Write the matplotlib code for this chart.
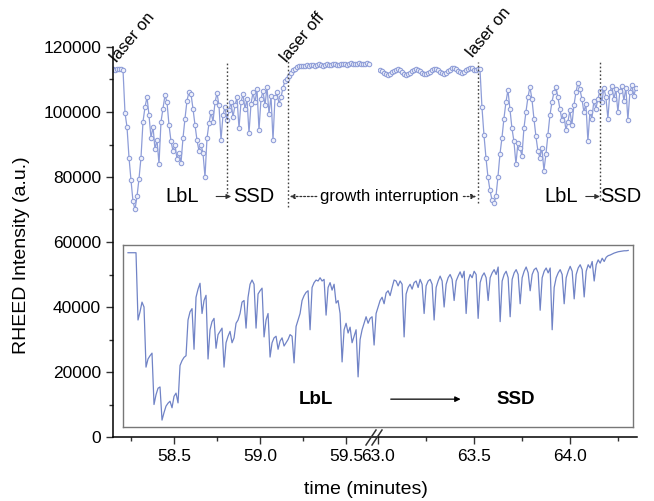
import numpy as np
import matplotlib
matplotlib.use("Agg")
import matplotlib.pyplot as plt
from matplotlib.ticker import MultipleLocator, FormatStrFormatter
from matplotlib.lines import Line2D

plt.rcParams['font.family'] = ['Liberation Sans', 'DejaVu Sans']

# ---- RHEED intensity, first growth run + interruption (minutes, a.u. x1000)
t0_run1 = 58.145
dt_run1 = 0.01163
run1_k = [
    113.2, 113.0, 113.3, 113.1, 113.2, 113.0, 99.7, 95.4, 86.0, 79.0,
    72.5, 70.0, 74.0, 79.5, 86.0, 97.0, 101.5, 104.6, 99.0, 92.0,
    95.5, 88.5, 91.5, 84.0, 97.0, 101.0, 105.2, 103.0, 96.0, 91.0,
    88.0, 90.0, 85.5, 87.5, 84.3, 92.0, 98.0, 103.5, 106.2, 105.5,
    101.0, 96.0, 91.3, 88.0, 90.0, 87.3, 80.0, 92.0, 96.5, 100.0,
    97.0, 103.0, 105.8, 102.0, 91.4, 99.0, 101.5, 97.5, 100.5, 103.0,
    98.5, 102.0, 104.5, 95.0, 103.0, 105.5, 101.0, 104.0, 93.5, 102.5,
    106.0, 103.0, 107.0, 94.5, 104.0, 106.5, 102.0, 107.7, 99.5, 105.0,
    91.4, 104.5, 106.0, 102.5, 104.5, 107.5, 109.5, 110.0, 111.0, 112.0,
    112.8, 113.3, 113.8, 114.0, 114.2, 114.0, 114.3, 114.5, 114.3, 114.6,
    114.4, 114.2, 114.5, 114.7, 114.4, 114.3, 114.6, 114.8, 114.5, 114.4,
    114.7, 114.9, 114.6, 114.5, 114.8, 114.9, 114.7, 114.6, 114.9, 115.0,
    114.8, 114.7, 114.9, 115.0, 114.8, 114.7, 114.9, 115.0, 114.8,
]

# ---- interruption (continued) + second growth run
t0_run2 = 63.0104
dt_run2 = 0.01042
run2_k = [
    113.0, 112.6, 112.0, 111.6, 111.5, 111.7, 112.2, 112.7, 113.0, 113.1,
    112.8, 112.3, 111.8, 111.5, 111.6, 112.0, 112.5, 113.0, 113.2, 113.0,
    112.6, 112.0, 111.7, 111.6, 111.9, 112.4, 112.9, 113.3, 113.2, 112.8,
    112.3, 111.9, 111.8, 112.0, 112.5, 113.0, 113.4, 113.5, 113.1, 112.6,
    112.2, 112.1, 112.4, 112.9, 113.3, 113.6, 113.4, 113.0, 112.8, 113.2,
    113.3, 101.5, 93.0, 86.0, 80.0, 76.0, 73.0, 72.0, 74.0, 80.0,
    87.0, 92.0, 98.0, 103.0, 106.8, 101.0, 95.0, 91.0, 84.0, 90.5,
    89.0, 86.5, 95.0, 100.0, 104.5, 107.7, 104.0, 98.0, 92.5, 88.0,
    86.0, 89.0, 82.0, 87.0, 93.0, 99.0, 103.0, 106.0, 107.7, 104.5,
    101.0, 97.5, 99.0, 94.5, 97.0, 100.5, 96.0, 102.0, 106.0, 109.0,
    107.0, 104.0, 100.0, 102.5, 91.0, 100.0, 98.0, 103.5, 101.0, 104.0,
    106.5, 103.0, 107.5, 104.5, 98.0, 106.0, 108.0, 104.0, 107.0, 100.0,
    106.5, 108.0, 103.5, 107.5, 97.5, 106.0, 108.2, 105.0, 107.5,
]

# ---- pulse-resolved detail (seconds, a.u. x1000)
dt_detail = 0.5
detail_k = [
    56.7, 56.7, 56.7, 56.7, 56.7, 36.0, 38.5, 41.5, 40.0, 21.5,
    24.0, 25.0, 25.8, 10.0, 13.0, 15.0, 15.4, 5.2, 7.5, 9.5,
    10.4, 11.0, 9.0, 12.5, 13.5, 10.5, 22.0, 23.5, 24.5, 25.0,
    36.0, 38.5, 39.5, 27.0, 43.0, 45.5, 47.3, 38.0, 42.0, 43.6,
    24.0, 33.0, 35.5, 36.5, 27.3, 31.5, 32.5, 33.5, 21.5, 29.0,
    31.0, 32.5, 29.0, 30.5, 35.0, 36.0, 38.0, 41.5, 42.0, 33.5,
    43.0, 47.0, 48.3, 47.0, 33.5, 44.0, 45.0, 45.8, 30.8, 36.0,
    38.0, 24.6, 29.0, 30.5, 31.0, 27.0, 29.5, 30.5, 28.0, 29.0,
    30.0, 31.5, 31.0, 22.8, 34.0, 36.0, 38.0, 42.0, 43.5, 44.5,
    45.0, 33.0, 46.0, 47.5, 48.3, 48.0, 49.0, 48.0, 48.5, 37.5,
    46.0, 47.5, 45.2, 47.0, 41.2, 42.0, 38.0, 23.1, 33.0, 35.0,
    32.0, 33.8, 29.0, 31.0, 33.0, 18.5, 30.0, 33.0, 35.0, 37.0,
    35.0, 36.5, 37.0, 28.3, 38.0, 40.0, 42.0, 43.0, 41.0, 44.3,
    45.0, 43.5, 46.0, 48.3, 48.0, 46.5, 48.0, 47.0, 30.8, 44.0,
    46.0, 47.0, 45.5, 47.5, 48.0, 46.0, 48.5, 47.0, 38.0, 46.5,
    48.0, 48.5, 47.0, 36.0, 46.0, 48.0, 49.5, 48.0, 40.0, 47.0,
    49.0, 50.0, 48.5, 42.0, 48.0, 49.5, 50.8, 49.0, 51.0, 38.0,
    48.0, 50.0, 49.0, 51.0, 50.0, 36.5, 47.5, 49.5, 50.5, 49.0,
    42.0, 49.0, 50.5, 51.5, 50.0, 52.3, 35.5, 48.0, 50.0, 51.0,
    49.0, 37.0, 48.5, 50.5, 51.5, 50.0, 41.0, 49.0, 51.0, 52.3,
    50.5, 45.0, 50.0, 51.5, 52.0, 50.5, 39.0, 49.0, 51.0, 52.0,
    50.5, 52.0, 33.0, 46.0, 49.0, 50.5, 51.5, 50.0, 41.0, 49.0,
    51.0, 52.5, 51.0, 42.5, 50.0, 52.0, 53.0, 51.5, 43.1, 51.0,
    53.0, 52.0, 54.0, 48.0, 53.0, 54.5, 53.5, 55.0, 54.0, 55.3,
    55.8, 56.0, 56.3, 56.6, 56.8, 57.0, 57.1, 57.2, 57.3, 57.3,
    57.4,
]

# event times (minutes)
t_ssd1 = 58.81
t_laser_off = 59.16
t_laser_on2 = 63.521
t_ssd2 = 64.156

run1 = np.array(run1_k) * 1000
run2 = np.array(run2_k) * 1000
detail = np.array(detail_k) * 1000
t_run1 = t0_run1 + dt_run1 * np.arange(len(run1))
t_run2 = t0_run2 + dt_run2 * np.arange(len(run2))
t_detail = dt_detail * np.arange(len(detail))

W, H = 654, 501
fig = plt.figure(figsize=(W / 100, H / 100), dpi=100)


def frect(x0, y0, x1, y1):
    return [x0 / W, 1 - y1 / H, (x1 - x0) / W, (y1 - y0) / H]


ax1 = fig.add_axes(frect(113, 47, 378, 437))
ax2 = fig.add_axes(frect(378, 47, 637, 437))

trace_col = '#8e9dd8'
mk = dict(marker='o', ms=3.2, mfc='#eef0fa', mec=trace_col, mew=0.75,
          color=trace_col, lw=0.9)
ax1.plot(t_run1, run1, **mk)
ax2.plot(t_run2, run2, **mk)

for ax in (ax1, ax2):
    ax.set_ylim(0, 120000)
    ax.spines['top'].set_visible(False)
    ax.spines['right'].set_visible(False)
    ax.spines['bottom'].set_linewidth(1.1)
    ax.spines['left'].set_linewidth(1.1)
    ax.tick_params(which='major', direction='out', length=5, width=1,
                   labelsize=12.5, color='#333333')
    ax.tick_params(which='minor', direction='out', length=3, width=1,
                   color='#333333')
    ax.xaxis.set_major_locator(MultipleLocator(0.5))
    ax.xaxis.set_minor_locator(MultipleLocator(0.25))
    ax.xaxis.set_major_formatter(FormatStrFormatter('%.1f'))
    ax.patch.set_alpha(0)

ax1.set_xlim(58.145, 59.686)
ax2.set_xlim(63.0, 64.35)
ax1.yaxis.set_major_locator(MultipleLocator(20000))
ax1.yaxis.set_minor_locator(MultipleLocator(10000))
ax1.yaxis.set_major_formatter(FormatStrFormatter('%d'))
ax2.spines['left'].set_visible(False)
ax2.tick_params(axis='y', which='both', left=False, labelleft=False)

# event markers
vl = dict(colors='#444444', linestyles=(0, (1.2, 1.6)), lw=1.0)
ax1.vlines(t_ssd1, 73800, 115400, **vl)
ax1.vlines(t_laser_off, 70800, 117000, **vl)
ax2.vlines(t_laser_on2, 72000, 115400, **vl)
ax2.vlines(t_ssd2, 73000, 115400, **vl)

rot = dict(rotation=50, rotation_mode='anchor', ha='left', va='baseline',
           fontsize=12, clip_on=False)
ax1.text(58.168, 115100, 'laser on', **rot)
ax1.text(59.157, 115100, 'laser off', **rot)
ax2.text(63.495, 116600, 'laser on', **rot)

lab = dict(fontsize=14.5, va='center')
y_lab = 74000
ax1.text(58.447, y_lab, 'LbL', ha='left', **lab)
ax1.text(58.843, y_lab, 'SSD', ha='left', **lab)
ax1.annotate('', xy=(58.832, y_lab), xytext=(58.745, y_lab),
             arrowprops=dict(arrowstyle='-|>', lw=0.8, color='#333333',
                             mutation_scale=7, shrinkA=0, shrinkB=0))
ax2.text(63.865, y_lab, 'LbL', ha='left', **lab)
ax2.text(64.158, y_lab, 'SSD', ha='left', **lab)
ax2.annotate('', xy=(64.157, y_lab), xytext=(64.083, y_lab),
             arrowprops=dict(arrowstyle='-|>', lw=0.8, color='#333333',
                             mutation_scale=7, shrinkA=0, shrinkB=0))

ax2.text(63.057, y_lab, 'growth interruption', ha='center', fontsize=12,
         va='center', clip_on=False)
dot_arrow = dict(arrowstyle='-|>', lw=0.9, color='#333333', ls=(0, (1.5, 1.5)),
                 mutation_scale=7, shrinkA=0, shrinkB=0)
ax1.annotate('', xy=(59.172, y_lab), xytext=(59.33, y_lab),
             arrowprops=dot_arrow)
ax2.annotate('', xy=(63.512, y_lab), xytext=(63.445, y_lab),
             arrowprops=dot_arrow)

# pulse-resolved detail panel
axd = fig.add_axes(frect(123, 245, 633, 427))
axd.plot(t_detail, detail, color='#7083c6', lw=0.9)
axd.set_xlim(-1.25, 126.2)
axd.set_ylim(3077, 59077)
axd.set_xticks([])
axd.set_yticks([])
for s in axd.spines.values():
    s.set_color('#777777')
    s.set_linewidth(1.0)
axd.patch.set_alpha(0)
y_in = 0.153
axd.text(0.379, y_in, 'LbL', transform=axd.transAxes, fontsize=13.5,
         fontweight='bold', ha='center', va='center')
axd.text(0.770, y_in, 'SSD', transform=axd.transAxes, fontsize=13.5,
         fontweight='bold', ha='center', va='center')
axd.annotate('', xy=(0.662, y_in), xytext=(0.525, y_in),
             xycoords='axes fraction',
             arrowprops=dict(arrowstyle='-|>', lw=0.9, color='black',
                             mutation_scale=8, shrinkA=0, shrinkB=0))

# axis break marks
for dx in (0, 6):
    fig.add_artist(Line2D([(366 + dx) / W, (376 + dx) / W],
                          [1 - 445 / H, 1 - 430 / H],
                          color='#333333', lw=1.1))

fig.text(22 / W, 1 - 255 / H, 'RHEED Intensity (a.u.)', rotation=90,
         ha='center', va='center', fontsize=14)
fig.text(366 / W, 1 - 490 / H, 'time (minutes)', ha='center',
         va='center', fontsize=14)

fig.savefig('out.png', dpi=100)
